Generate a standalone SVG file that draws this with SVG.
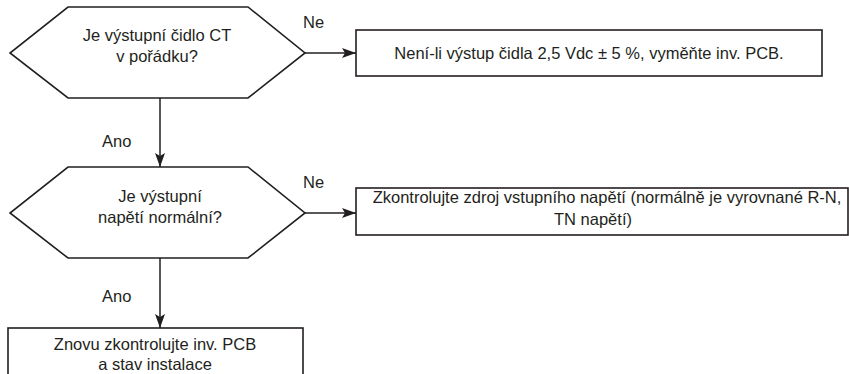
<svg xmlns="http://www.w3.org/2000/svg" width="849" height="374" viewBox="0 0 849 374">
  <defs>
    <style>
      .shape { fill: #ffffff; stroke: #231f20; stroke-width: 1.6; }
      .wire { fill: none; stroke: #231f20; stroke-width: 1.5; }
      text { font-family: "Liberation Sans", Arial, sans-serif; font-size: 16.5px; fill: #231f20; }
      .c { text-anchor: middle; }
    </style>
    <marker id="arrow" viewBox="0 0 14 10" refX="14" refY="5" markerWidth="14" markerHeight="10" markerUnits="userSpaceOnUse" orient="auto">
      <path d="M0,0 L14,5 L0,10 L3,5 Z" fill="#231f20"/>
    </marker>
  </defs>
  <rect width="849" height="374" fill="#ffffff"/>

  <!-- connectors -->
  <g id="connectors">
    <line class="wire" x1="305" y1="53" x2="356" y2="53" marker-end="url(#arrow)"/>
    <line class="wire" x1="160" y1="98" x2="160" y2="167" marker-end="url(#arrow)"/>
    <line class="wire" x1="305" y1="213" x2="356" y2="213" marker-end="url(#arrow)"/>
    <line class="wire" x1="160" y1="258" x2="160" y2="328" marker-end="url(#arrow)"/>
    <text x="303" y="28">Ne</text>
    <text x="303" y="188">Ne</text>
    <text x="102" y="147">Ano</text>
    <text x="102" y="302">Ano</text>
  </g>

  <!-- decision 1 -->
  <g id="check-ct-sensor">
    <polygon class="shape" points="68,7 248,7 305,53 248,98 68,98 10,53"/>
    <text class="c" x="157" y="41">Je výstupní čidlo CT</text>
    <text class="c" x="157" y="62">v pořádku?</text>
  </g>

  <!-- action 1 -->
  <g id="replace-pcb">
    <rect class="shape" x="356" y="30" width="466" height="46"/>
    <text class="c" x="589" y="59">Není-li výstup čidla 2,5 Vdc ± 5 %, vyměňte inv. PCB.</text>
  </g>

  <!-- decision 2 -->
  <g id="check-output-voltage">
    <polygon class="shape" points="68,167 248,167 305,213 248,258 68,258 10,213"/>
    <text class="c" x="160" y="202">Je výstupní</text>
    <text class="c" x="160" y="223">napětí normální?</text>
  </g>

  <!-- action 2 -->
  <g id="check-input-supply">
    <rect class="shape" x="356" y="188" width="492" height="47"/>
    <text class="c" x="607" y="203">Zkontrolujte zdroj vstupního napětí (normálně je vyrovnané R-N,</text>
    <text class="c" x="593" y="225">TN napětí)</text>
  </g>

  <!-- action 3 -->
  <g id="recheck-installation">
    <rect class="shape" x="8" y="328" width="295" height="60"/>
    <text class="c" x="155" y="350">Znovu zkontrolujte inv. PCB</text>
    <text class="c" x="155" y="370">a stav instalace</text>
  </g>
</svg>
